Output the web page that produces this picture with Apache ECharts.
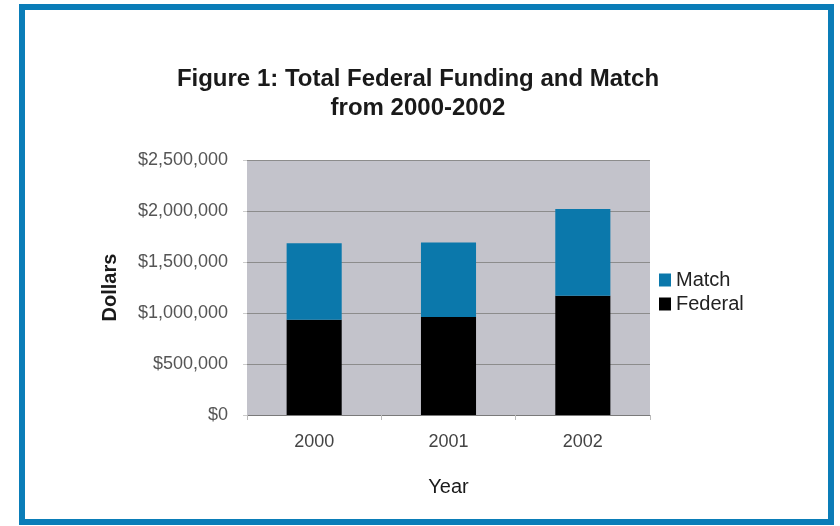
<!DOCTYPE html>
<html>
<head>
<meta charset="utf-8">
<script src="https://cdn.jsdelivr.net/npm/echarts@6/dist/echarts.min.js"></script>
<style>
  html, body { margin: 0; padding: 0; background: #fff; }
  #chart { width: 840px; height: 526px; }
</style>
</head>
<body>
<div id="chart"></div>
<script>
// data
const years = ['2000', '2001', '2002'];
const federal = [935000, 960000, 1170000];
const match = [750000, 730000, 850000];
const legendOrder = ['Match', 'Federal'];

const chart = echarts.init(document.getElementById('chart'));

const option = {
  backgroundColor: '#ffffff',
  animation: false,
  title: {
    text: 'Figure 1: Total Federal Funding and Match\nfrom 2000-2002',
    left: 418,
    top: 65,
    padding: 0,
    textAlign: 'center',
    textStyle: {
      fontFamily: 'Liberation Sans, Arial, sans-serif',
      fontSize: 24,
      fontWeight: 'bold',
      lineHeight: 29,
      color: '#1a1a1a'
    }
  },
  legend: {
    data: legendOrder,
    orient: 'vertical',
    left: 659,
    top: 270,
    padding: 0,
    itemWidth: 12,
    itemHeight: 13,
    itemGap: 4,
    icon: 'rect',
    textStyle: {
      fontFamily: 'Liberation Sans, Arial, sans-serif',
      fontSize: 20,
      color: '#222'
    }
  },
  grid: {
    left: 247,
    right: 190,
    top: 160,
    bottom: 111,
    show: true,
    backgroundColor: '#c3c3cb',
    borderWidth: 0
  },
  xAxis: {
    type: 'category',
    data: years,
    name: 'Year',
    nameLocation: 'middle',
    nameGap: 62,
    nameTextStyle: {
      fontFamily: 'Liberation Sans, Arial, sans-serif',
      fontSize: 20,
      color: '#1a1a1a'
    },
    axisLine: { lineStyle: { color: '#7a7a7a', width: 1 } },
    axisTick: { show: true, length: 5, lineStyle: { color: '#bbb' } },
    axisLabel: {
      margin: 18,
      fontFamily: 'Liberation Sans, Arial, sans-serif',
      fontSize: 18,
      color: '#444'
    }
  },
  yAxis: {
    type: 'value',
    min: 0,
    max: 2500000,
    interval: 500000,
    name: 'Dollars',
    nameLocation: 'middle',
    nameGap: 127,
    nameTextStyle: {
      fontFamily: 'Liberation Sans, Arial, sans-serif',
      fontSize: 20,
      fontWeight: 'bold',
      color: '#1a1a1a'
    },
    axisLine: { show: false },
    axisTick: { show: true, length: 4, lineStyle: { color: '#ccc' } },
    splitLine: { lineStyle: { color: '#8c8c8c', width: 1 } },
    axisLabel: {
      margin: 19,
      fontFamily: 'Liberation Sans, Arial, sans-serif',
      fontSize: 18,
      color: '#555',
      formatter: (v) => '$' + v.toLocaleString('en-US')
    }
  },
  series: [
    {
      name: 'Federal',
      type: 'bar',
      stack: 'total',
      barWidth: '41%',
      data: federal,
      itemStyle: { color: '#000000' }
    },
    {
      name: 'Match',
      type: 'bar',
      stack: 'total',
      barWidth: '41%',
      data: match,
      itemStyle: { color: '#0b78ab' }
    }
  ],
  graphic: [
    {
      type: 'rect',
      shape: { x: 22, y: 7, width: 809, height: 515 },
      style: { fill: 'none', stroke: '#0a7db8', lineWidth: 6 },
      silent: true
    }
  ]
};

chart.setOption(option);
</script>
</body>
</html>
